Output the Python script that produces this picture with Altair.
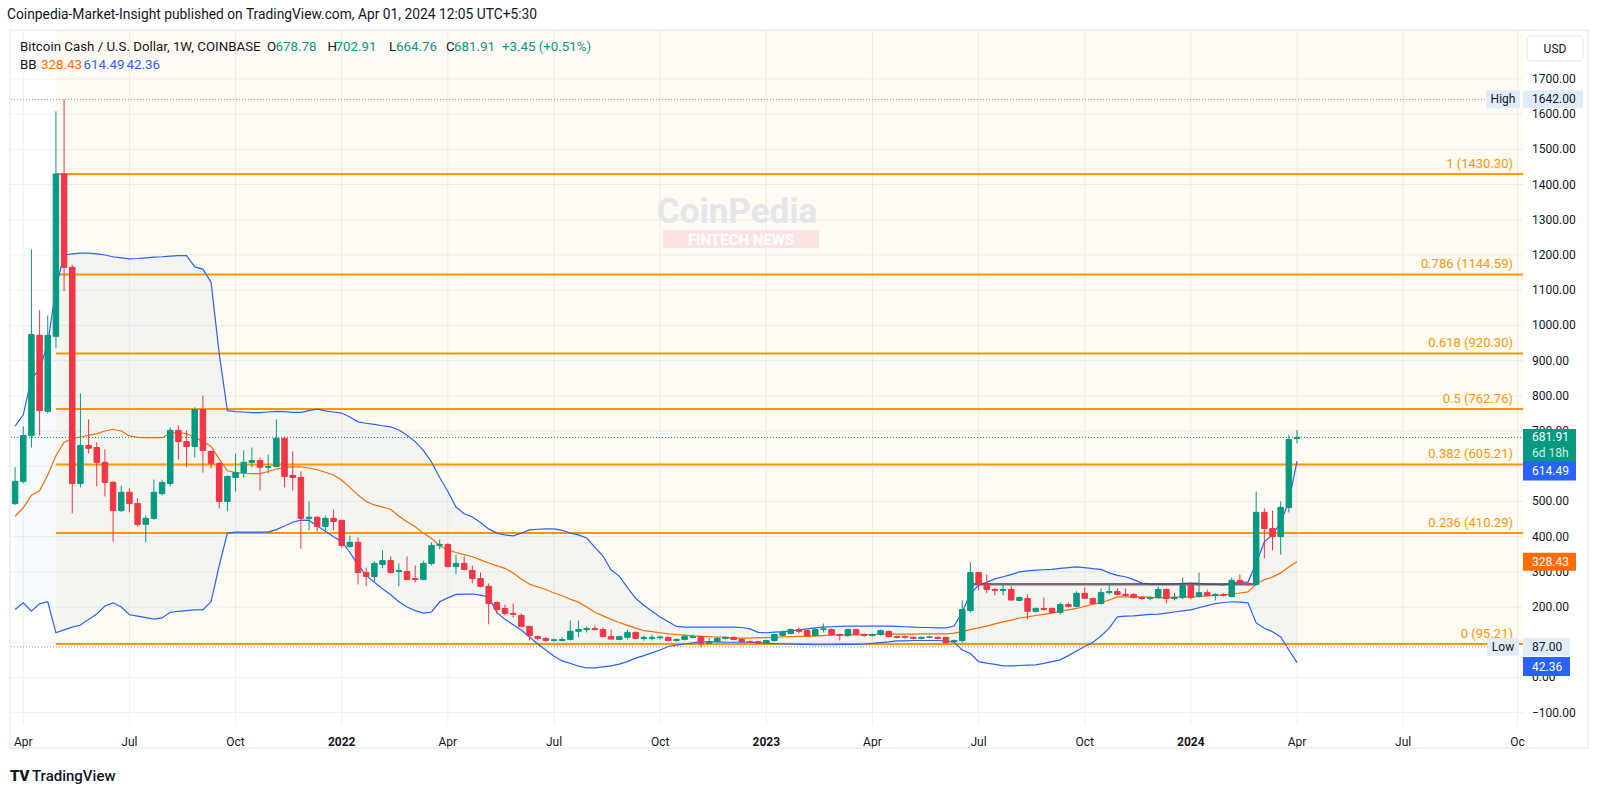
import altair as alt
import pandas as pd
import numpy as np

FONT = "Roboto"
UP = "#089981"
DOWN = "#F23645"
INK = "#131722"

# ---------------- data ----------------
START_DATE = "2021-03-29"   # first weekly bar (Mondays)

OPEN = [494, 557, 687, 972, 756, 969, 1430, 1165, 551, 659,
        653, 611, 554, 474, 526, 494, 435, 452, 522, 551,
        702, 670, 656, 761, 642, 608, 500, 568, 582, 611,
        616, 597, 599, 679, 574, 568, 452, 455, 429, 452,
        446, 372, 384, 298, 287, 321, 332, 301, 301, 281,
        278, 324, 375, 378, 315, 324, 304, 281, 259, 213,
        196, 182, 176, 145, 116, 111, 105, 105, 108, 131,
        136, 139, 136, 116, 108, 114, 128, 111, 111, 113,
        114, 105, 108, 114, 116, 97, 102, 111, 114, 108,
        102, 102, 97, 105, 119, 125, 136, 133, 119, 136,
        136, 122, 119, 136, 122, 119, 122, 131, 116, 116,
        114, 111, 114, 114, 114, 102, 105, 190, 298, 264,
        250, 247, 250, 219, 224, 188, 196, 196, 185, 207,
        202, 239, 224, 210, 241, 244, 236, 236, 227, 224,
        227, 250, 224, 227, 261, 230, 241, 233, 236, 230,
        276, 267, 264, 469, 423, 400, 483, 678.78]
HIGH = [597, 713, 1216, 1043, 1028, 1608, 1642, 1172, 807, 733,
        668, 648, 558, 545, 537, 509, 460, 562, 562, 710,
        716, 702, 767, 801, 645, 612, 574, 636, 645, 653,
        625, 633, 733, 685, 642, 585, 500, 458, 460, 477,
        448, 403, 398, 312, 330, 361, 344, 324, 344, 318,
        332, 384, 392, 381, 349, 344, 318, 298, 267, 216,
        207, 210, 182, 147, 119, 114, 110, 114, 162, 162,
        145, 148, 142, 136, 119, 136, 131, 119, 122, 119,
        116, 111, 122, 122, 118, 112, 114, 116, 116, 111,
        105, 104, 107, 124, 133, 139, 142, 136, 139, 153,
        139, 125, 139, 139, 125, 125, 136, 133, 119, 119,
        116, 116, 119, 116, 114, 108, 219, 327, 298, 293,
        253, 267, 261, 230, 236, 199, 227, 199, 213, 213,
        245, 256, 227, 253, 267, 253, 253, 239, 230, 230,
        258, 253, 241, 284, 270, 298, 250, 239, 239, 284,
        293, 270, 528, 480, 474, 500, 690, 702.91]
LOW = [490, 551, 653, 687, 750, 935, 1097, 466, 540, 636,
       543, 514, 386, 470, 469, 429, 384, 448, 517, 543,
       619, 597, 625, 582, 594, 480, 472, 528, 568, 597,
       531, 580, 597, 540, 531, 366, 418, 415, 418, 418,
       369, 368, 264, 259, 270, 310, 295, 259, 278, 270,
       276, 318, 364, 312, 293, 304, 267, 256, 151, 182,
       176, 170, 142, 105, 105, 102, 102, 102, 105, 114,
       128, 133, 114, 108, 106, 108, 108, 105, 105, 108,
       102, 102, 105, 111, 87, 95, 99, 108, 106, 100,
       97, 95, 95, 102, 116, 122, 125, 116, 116, 128,
       119, 105, 116, 119, 116, 116, 119, 114, 111, 111,
       108, 108, 111, 108, 94, 99, 99, 185, 247, 239,
       233, 233, 219, 216, 165, 185, 190, 182, 179, 199,
       199, 224, 207, 207, 236, 233, 230, 224, 219, 219,
       224, 210, 219, 222, 222, 227, 230, 219, 230, 227,
       264, 261, 261, 338, 361, 349, 469, 664.76]
CLOSE = [557, 687, 974, 758, 972, 1430, 1165, 551, 659, 651,
         611, 554, 474, 526, 494, 435, 452, 526, 554, 702,
         670, 656, 761, 645, 608, 500, 571, 582, 611, 616,
         597, 599, 679, 571, 568, 452, 455, 429, 452, 443,
         375, 384, 298, 287, 324, 332, 298, 304, 278, 278,
         324, 375, 378, 315, 324, 307, 281, 259, 210, 193,
         182, 179, 145, 119, 111, 105, 107, 108, 131, 136,
         139, 136, 116, 109, 116, 128, 111, 114, 114, 115,
         105, 108, 116, 116, 97, 102, 111, 114, 108, 102,
         100, 97, 105, 122, 128, 136, 131, 119, 136, 138,
         122, 119, 136, 122, 119, 122, 133, 116, 114, 114,
         111, 114, 115, 111, 99, 105, 193, 298, 265, 250,
         247, 250, 220, 227, 188, 196, 193, 185, 207, 202,
         239, 225, 210, 241, 244, 236, 233, 227, 224, 227,
         250, 224, 227, 261, 227, 241, 233, 236, 233, 276,
         267, 264, 469, 423, 400, 483, 676, 681.91]

BB_UPPER = [714, 746, 850, 874, 950, 1105, 1200, 1203, 1205, 1205,
            1203, 1200, 1195, 1192, 1189, 1190, 1192, 1194, 1195, 1197,
            1198, 1198, 1166, 1160, 1123, 920, 758, 755, 754, 752,
            752, 754, 756, 755, 753, 753, 758, 762, 757, 754,
            751, 740, 726, 722, 719, 715, 712, 703, 688, 670,
            645, 612, 568, 528, 484, 465, 456, 440, 422, 410,
            405, 402, 410, 419, 421, 422, 422, 418, 410, 405,
            396, 370, 345, 305, 288, 255, 225, 205, 188, 172,
            158, 145, 143, 143, 143, 143, 143, 143, 143, 142,
            138, 128, 127, 129, 130, 132, 135, 138, 141, 143,
            144, 145, 146, 146, 146, 146, 146, 146, 145, 144,
            143, 142, 142, 141, 141, 146, 186, 238, 262, 270,
            280, 286, 292, 300, 303, 305, 306, 307, 310, 312,
            314, 312, 309, 307, 297, 290, 286, 278, 268, 266,
            265, 265, 266, 267, 268, 267, 265, 264, 263, 267,
            271, 271, 325, 385, 405, 440, 500, 614.49]
BB_BASIS = [458, 482, 518, 530, 575, 630, 668, 678, 683, 688,
            692, 700, 705, 700, 686, 682, 681, 681, 681, 694,
            695, 693, 682, 670, 656, 620, 587, 582, 580, 579,
            579, 585, 592, 596, 598, 598, 595, 590, 583, 575,
            560, 540, 518, 500, 490, 484, 478, 458, 442, 428,
            410, 395, 374, 362, 355, 349, 343, 334, 325, 317,
            310, 297, 280, 265, 257, 250, 240, 232, 222, 214,
            200, 185, 175, 165, 156, 148, 140, 133, 130, 127,
            124, 122, 120, 118, 117, 116, 115, 114, 112, 112,
            112, 113, 113, 114, 115, 116, 117, 117, 118, 119,
            120, 120, 121, 121, 122, 122, 123, 123, 123, 123,
            123, 124, 124, 124, 124, 126, 130, 136, 141, 146,
            152, 158, 163, 169, 172, 176, 179, 183, 188, 192,
            196, 202, 208, 212, 220, 229, 229, 229, 229, 228,
            226, 227, 228, 229, 229, 230, 232, 233, 234, 237,
            240, 243, 265, 278, 285, 297, 314, 328.43]
BB_LOWER = [193, 212, 188, 209, 215, 127, 135, 143, 149, 165,
            180, 203, 212, 200, 178, 174, 170, 166, 169, 185,
            188, 190, 192, 192, 215, 318, 410, 413, 413, 413,
            413, 413, 420, 430, 441, 447, 446, 430, 415, 400,
            386, 355, 320, 290, 270, 252, 235, 215, 200, 190,
            183, 186, 215, 226, 236, 237, 237, 234, 228, 185,
            165, 150, 135, 115, 95, 78, 60, 47, 40, 32,
            27, 27, 30, 33, 38, 45, 55, 62, 70, 78,
            88, 92, 95, 98, 101, 101, 101, 100, 100, 100,
            100, 98, 97, 96, 95, 95, 94, 94, 93, 93,
            93, 94, 94, 94, 95, 97, 99, 101, 104, 104,
            105, 105, 105, 105, 103, 100, 78, 68, 45, 41,
            37, 33, 33, 34, 35, 36, 40, 45, 50, 62,
            75, 88, 100, 118, 140, 172, 174, 175, 177, 179,
            180, 183, 186, 189, 192, 198, 204, 210, 213, 215,
            214, 212, 155, 140, 130, 115, 78, 42.36]

FIB_RATIO = ["1", "0.786", "0.618", "0.5", "0.382", "0.236", "0"]
FIB_PRICE = [1430.30, 1144.59, 920.30, 762.76, 605.21, 410.29, 95.21]
FIB_START_BAR = 5

DRAWN_LEVEL = 265          # horizontal line drawn on the chart
DRAWN_FROM_BAR, DRAWN_TO_BAR = 117, 152

HIGH_PRICE = 1642.00
LOW_PRICE = 87.00
LAST_CLOSE = 681.91
BB_LAST = (328.43, 614.49, 42.36)   # basis, upper, lower

X_TICK_DATES = ["2021-04-05", "2021-07-05", "2021-10-04", "2022-01-03", "2022-04-04",
                "2022-07-04", "2022-10-03", "2023-01-02", "2023-04-03", "2023-07-03",
                "2023-10-02", "2024-01-01", "2024-04-01", "2024-07-01", "2024-10-07"]
X_TICK_LABELS = ["Apr", "Jul", "Oct", "2022", "Apr", "Jul", "Oct", "2023", "Apr", "Jul",
                 "Oct", "2024", "Apr", "Jul", "Oc"]
Y_TICKS = list(range(-100, 1800, 100))
Y_LABELS_HIDDEN = [100, 600]   # covered by the price tags in the reference

# ---------------- frames ----------------
dates = pd.date_range(START_DATE, periods=len(OPEN), freq="7D")
date_str = [d.strftime("%Y-%m-%d") for d in dates]

candles = pd.DataFrame({"date": date_str, "open": OPEN, "high": HIGH, "low": LOW, "close": CLOSE})
candles["dir"] = np.where(candles["close"] >= candles["open"], "up", "down")
bands = pd.DataFrame({"date": date_str, "upper": BB_UPPER, "basis": BB_BASIS, "lower": BB_LOWER})
fib_df = pd.DataFrame({
    "start": [date_str[FIB_START_BAR]] * len(FIB_PRICE),
    "price": FIB_PRICE,
    "label": [f"{r} ({p:.2f})" for r, p in zip(FIB_RATIO, FIB_PRICE)],
})
xt = pd.DataFrame({"date": X_TICK_DATES, "label": X_TICK_LABELS})
xt["year"] = xt["label"].str.match(r"^\d{4}$")
yt = pd.DataFrame({"price": Y_TICKS,
                   "label": [f"{v:.2f}".replace("-", "\u2212") for v in Y_TICKS]})
yt_lab = yt[~yt["price"].isin(Y_LABELS_HIDDEN)]

# ---------------- scales ----------------
W, H = 1512, 695
PX_PER_DAY = 8.165 / 7
t0 = dates[0] - pd.Timedelta(days=4.1 / PX_PER_DAY)
t1 = t0 + pd.Timedelta(days=W / PX_PER_DAY)


def dt(ts):
    return alt.DateTime(year=ts.year, month=ts.month, date=ts.day,
                        hours=ts.hour, minutes=ts.minute, utc=True)


xscale = alt.Scale(type="utc", domain=[dt(t0), dt(t1)], nice=False, padding=0)
yscale = alt.Scale(domain=[-135, 1839], nice=False, zero=False, padding=0)
cscale = alt.Scale(domain=["up", "down"], range=[UP, DOWN])
GRID = "#EDF0F5"


def X(field="date"):
    return alt.X(f"{field}:T", scale=xscale, axis=None)


def Y(field):
    return alt.Y(f"{field}:Q", scale=yscale, axis=None)


ONE = pd.DataFrame({"k": [0]})

layers = []

# grid
layers.append(alt.Chart(yt).mark_rule(color=GRID, strokeWidth=1)
              .encode(x=alt.value(0), x2=alt.value(W), y=Y("price")))
layers.append(alt.Chart(xt).mark_rule(color=GRID, strokeWidth=1)
              .encode(x=X(), y=alt.value(0), y2=alt.value(H)))

# fib background
layers.append(
    alt.Chart(pd.DataFrame({"start": [date_str[FIB_START_BAR]], "price": [FIB_PRICE[-1]]}))
    .mark_rect(color="#FF9800", opacity=0.05)
    .encode(x=X("start"), x2=alt.value(W), y=Y("price"), y2=alt.value(0))
)


def ptext(text, x, y, color=INK, size=13, weight="normal", align="left", **kw):
    return alt.Chart(ONE).mark_text(text=text, align=align, baseline="middle", color=color,
                                    fontSize=size, fontWeight=weight, font=FONT, **kw).encode(
        x=alt.value(x), y=alt.value(y))


def prect(x0, x1, y0, y1, fill, stroke=None, radius=0, opacity=1):
    kw = dict(fill=fill, cornerRadius=radius, opacity=opacity)
    if stroke:
        kw.update(stroke=stroke, strokeWidth=1)
    return alt.Chart(ONE).mark_rect(**kw).encode(
        x=alt.value(x0), x2=alt.value(x1), y=alt.value(y0), y2=alt.value(y1))


# watermark
layers.append(ptext("CoinPedia", 726, 182, color="#E4E6EB", size=35, weight="bold", align="center"))
layers.append(prect(652, 808, 200, 218, "#FCE3E3"))
layers.append(ptext("FINTECH NEWS", 730, 209.5, color="#FFFFFF", size=15, weight="bold", align="center"))

# Bollinger fill + fib levels
layers.append(alt.Chart(bands).mark_area(color="#2196F3", opacity=0.05)
              .encode(x=X(), y=Y("upper"), y2="lower:Q"))
layers.append(alt.Chart(fib_df).mark_rule(color="#FF9800", strokeWidth=2)
              .encode(x=X("start"), x2=alt.value(W), y=Y("price")))
layers.append(alt.Chart(fib_df).mark_text(align="right", baseline="bottom", dy=-3, color="#FF9800",
                                          font=FONT, fontSize=13)
              .encode(x=alt.value(1502), y=Y("price"), text="label:N"))

# Bollinger lines
layers.append(alt.Chart(bands).mark_line(color="#2962FF", strokeWidth=1.2).encode(x=X(), y=Y("upper")))
layers.append(alt.Chart(bands).mark_line(color="#2962FF", strokeWidth=1.2).encode(x=X(), y=Y("lower")))
layers.append(alt.Chart(bands).mark_line(color="#FF6D00", strokeWidth=1.2).encode(x=X(), y=Y("basis")))

# drawn horizontal line
layers.append(
    alt.Chart(pd.DataFrame({"start": [date_str[DRAWN_FROM_BAR]], "end": [date_str[DRAWN_TO_BAR]],
                            "price": [DRAWN_LEVEL]}))
    .mark_rule(color="#5A4356", strokeWidth=2.5, opacity=0.8)
    .encode(x=X("start"), x2="end:T", y=Y("price"))
)

# dotted high/low + last price lines
layers.append(alt.Chart(pd.DataFrame({"price": [HIGH_PRICE, LOW_PRICE]}))
              .mark_rule(color="#9598A1", strokeDash=[1, 2], strokeWidth=1)
              .encode(x=alt.value(0), x2=alt.value(1475), y=Y("price")))
layers.append(alt.Chart(pd.DataFrame({"price": [LAST_CLOSE]}))
              .mark_rule(color=UP, strokeDash=[1, 2], strokeWidth=1)
              .encode(x=alt.value(0), x2=alt.value(W), y=Y("price")))

# candles
layers.append(alt.Chart(candles).mark_rule(strokeWidth=1)
              .encode(x=X(), y=Y("low"), y2="high:Q",
                      color=alt.Color("dir:N", scale=cscale, legend=None)))
layers.append(alt.Chart(candles).mark_bar(size=5.5, strokeWidth=1)
              .encode(x=X(), y=Y("open"), y2="close:Q",
                      color=alt.Color("dir:N", scale=cscale, legend=None),
                      stroke=alt.Stroke("dir:N", scale=cscale, legend=None)))

# price scale labels
layers.append(alt.Chart(yt_lab).mark_text(align="left", baseline="middle", font=FONT, fontSize=12, color=INK)
              .encode(x=alt.value(1521), y=Y("price"), text="label:N"))


# price-scale tags
def tag(price, x0, x1, h, color, yoff=0):
    return alt.Chart(pd.DataFrame({"price": [price]})).mark_rule(
        strokeWidth=h, color=color, yOffset=yoff, strokeCap="butt").encode(
        x=alt.value(x0), x2=alt.value(x1), y=Y("price"))


def tag_text(price, text, x, color, dy=0, align="left", size=12, weight="normal"):
    return alt.Chart(pd.DataFrame({"price": [price]})).mark_text(
        text=text, align=align, baseline="middle", dy=dy, color=color, fontSize=size,
        fontWeight=weight, font=FONT).encode(x=alt.value(x), y=Y("price"))


LIGHT = "#E1ECFB"
layers += [
    tag(HIGH_PRICE, 1475, 1509, 18, LIGHT), tag_text(HIGH_PRICE, "High", 1492, INK, align="center"),
    tag(HIGH_PRICE, 1512, 1572, 18, LIGHT), tag_text(HIGH_PRICE, f"{HIGH_PRICE:.2f}", 1521, INK),
    tag(LAST_CLOSE, 1512, 1565, 33, UP, yoff=8),
    tag_text(LAST_CLOSE, f"{LAST_CLOSE:.2f}", 1521, "#FFFFFF"),
    tag_text(LAST_CLOSE, "6d 18h", 1521, "#CDEDE5", dy=16),
    tag(BB_LAST[1], 1512, 1565, 19, "#2962FF", yoff=10),
    tag_text(BB_LAST[1], f"{BB_LAST[1]:.2f}", 1521, "#FFFFFF", dy=10),
    tag(BB_LAST[0], 1512, 1565, 18, "#FF6D00"),
    tag_text(BB_LAST[0], f"{BB_LAST[0]:.2f}", 1521, "#FFFFFF"),
    tag(LOW_PRICE, 1476, 1508, 18, LIGHT), tag_text(LOW_PRICE, "Low", 1492, INK, align="center"),
    tag(LOW_PRICE, 1512, 1559, 18, LIGHT), tag_text(LOW_PRICE, f"{LOW_PRICE:.2f}", 1521, INK),
    tag(BB_LAST[2], 1512, 1559, 19, "#2962FF", yoff=4),
    tag_text(BB_LAST[2], f"{BB_LAST[2]:.2f}", 1521, "#FFFFFF", dy=4),
]

# USD box
layers.append(prect(1516, 1572, 6, 31, "#FFFFFF", stroke="#E0E3EB", radius=4))
layers.append(ptext("USD", 1544, 18.5, size=12, align="center"))

# x-axis labels
layers.append(alt.Chart(xt[~xt["year"]]).mark_text(baseline="middle", fontSize=12, font=FONT, color=INK)
              .encode(x=X(), y=alt.value(712), text="label:N"))
layers.append(alt.Chart(xt[xt["year"]]).mark_text(baseline="middle", fontSize=12, font=FONT, color=INK,
                                                  fontWeight="bold")
              .encode(x=X(), y=alt.value(712), text="label:N"))

# header legend
layers.append(ptext("Coinpedia-Market-Insight published on TradingView.com, Apr 01, 2024 12:05 UTC+5:30",
                    -4, -15, size=13.8))
legend_row = [
    ("Bitcoin Cash / U.S. Dollar, 1W, COINBASE", 9, INK),
    ("O", 256, INK), (f"{OPEN[-1]:.2f}", 264.5, UP),
    ("H", 316.5, INK), (f"{HIGH[-1]:.2f}", 324.5, UP),
    ("L", 378, INK), (f"{LOW[-1]:.2f}", 385, UP),
    ("C", 435, INK), (f"{CLOSE[-1]:.2f}", 443, UP),
    ("+3.45 (+0.51%)", 491, UP),
]
for txt, x, col in legend_row:
    layers.append(ptext(txt, x, 17, color=col, size=13.3))
for txt, x, col in [("BB", 9, INK), (f"{BB_LAST[0]:.2f}", 30, "#FF6D00"),
                    (f"{BB_LAST[1]:.2f}", 72.5, "#2962FF"), (f"{BB_LAST[2]:.2f}", 115.5, "#2962FF")]:
    layers.append(ptext(txt, x, 35, color=col, size=13.3))

# chart frame
layers.append(alt.Chart(ONE).mark_rect(fillOpacity=0, stroke="#E0E3EB", strokeWidth=1)
              .encode(x=alt.value(-1), x2=alt.value(1577), y=alt.value(0), y2=alt.value(718)))

# footer logo
layers.append(ptext("TV", -1, 746, size=15, weight=900))
layers.append(ptext("TradingView", 21, 746, size=15, weight=500))

chart = alt.layer(*layers).properties(
    width=W, height=H,
    padding={"left": 11, "top": 30, "right": 77, "bottom": 71},
    autosize=alt.AutoSizeParams(type="none"),
    background="#FFFFFF",
).configure_view(strokeWidth=0)

chart.save("out.html", embed_options={"renderer": "svg", "actions": False})
